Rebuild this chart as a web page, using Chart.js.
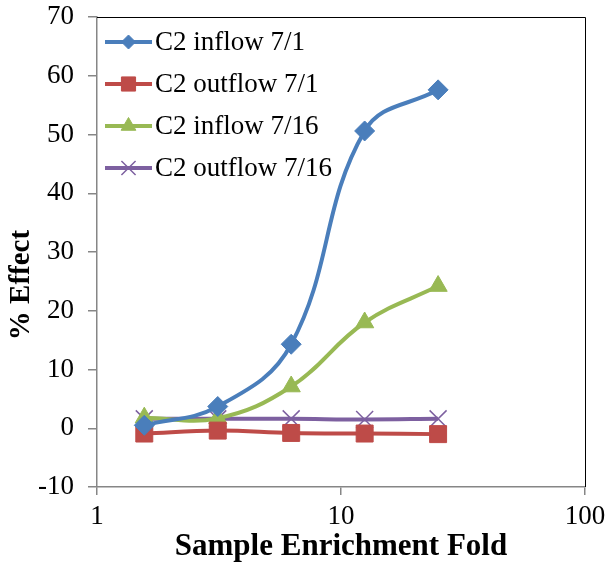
<!DOCTYPE html>
<html>
<head>
<meta charset="utf-8">
<script src="https://cdn.jsdelivr.net/npm/chart.js@4.4.1/dist/chart.umd.min.js"></script>
<style>
  html, body { margin: 0; padding: 0; background: #fff; }
  #wrap { width: 608px; height: 566px; }
</style>
</head>
<body>
<div id="wrap"><canvas id="chart" width="608" height="566"></canvas></div>
<script>
// enrichment fold (x) and % effect for each sample
const fold = [1.5625, 3.125, 6.25, 12.5, 25];
const inflow71 = [0.5, 3.7, 14.3, 50.6, 57.6];
const outflow71 = [-0.9, -0.4, -0.8, -0.9, -1.0];
const inflow716 = [1.8, 1.7, 7.1, 18.0, 24.2];
const outflow716 = [1.6, 1.6, 1.6, 1.5, 1.6];

const seriesNames = ['C2 inflow 7/1', 'C2 outflow 7/1', 'C2 inflow 7/16', 'C2 outflow 7/16'];
const xTicks = [1, 10, 100];
const yTicks = [-10, 0, 10, 20, 30, 40, 50, 60, 70];

const SERIF = '"Liberation Serif", "Times New Roman", serif';
const AXIS = '#868686';

const points = (vals) => fold.map((x, i) => ({ x, y: vals[i] }));

const styles = [
  { color: '#4A7EBB', pointStyle: 'rectRot', radius: 10, legendRadius: 7, tension: 0.4 },
  { color: '#BE4B48', pointStyle: 'rect', radius: 12, legendRadius: 10, tension: 0.4 },
  { color: '#98B954', pointStyle: 'triangle', radius: 10.5, legendRadius: 8.5, tension: 0.4 },
  { color: '#7D60A0', pointStyle: 'crossRot', radius: 12, legendRadius: 10, tension: 0.4 },
];

const datasets = [inflow71, outflow71, inflow716, outflow716].map((vals, i) => ({
  label: seriesNames[i],
  data: points(vals),
  borderColor: styles[i].color,
  backgroundColor: styles[i].color,
  borderWidth: 4,
  pointStyle: styles[i].pointStyle,
  pointRadius: styles[i].radius,
  pointBorderWidth: styles[i].pointStyle === 'crossRot' ? 1.5 : 1,
  pointBorderColor: styles[i].color,
  pointBackgroundColor: styles[i].color,
  tension: styles[i].tension,
}));

// top/right frame of the plot area, axis title on the left, legend inside the plot
const decor = {
  id: 'decor',
  beforeDatasetsDraw(chart) {
    const { ctx, chartArea: a } = chart;
    ctx.save();
    ctx.strokeStyle = '#000';
    ctx.lineWidth = 1;
    ctx.beginPath();
    ctx.moveTo(a.left, a.top + 0.5);
    ctx.lineTo(a.right + 0.5, a.top + 0.5);
    ctx.lineTo(a.right + 0.5, a.bottom);
    ctx.stroke();
    ctx.restore();
  },
  afterDraw(chart) {
    const { ctx, chartArea: a } = chart;
    ctx.save();
    ctx.fillStyle = '#000';
    ctx.font = 'bold 29px ' + SERIF;
    ctx.textAlign = 'center';
    ctx.textBaseline = 'middle';
    ctx.translate(22, 285);
    ctx.rotate(-Math.PI / 2);
    ctx.fillText('% Effect', 0, 0);
    ctx.restore();

    chart.data.datasets.forEach((ds, i) => {
      const y = a.top + 25 + i * 42;
      const x0 = a.left + 8;
      const x1 = a.left + 55;
      ctx.save();
      ctx.strokeStyle = ds.borderColor;
      ctx.fillStyle = ds.backgroundColor;
      ctx.lineWidth = 4;
      ctx.beginPath();
      ctx.moveTo(x0, y);
      ctx.lineTo(x1, y);
      ctx.stroke();
      ctx.lineWidth = ds.pointBorderWidth;
      Chart.helpers.drawPoint(ctx, {
        pointStyle: ds.pointStyle,
        radius: styles[i].legendRadius,
        borderWidth: ds.pointBorderWidth,
      }, (x0 + x1) / 2, y);
      ctx.fillStyle = '#000';
      ctx.font = '27px ' + SERIF;
      ctx.textBaseline = 'middle';
      ctx.fillText(ds.label, x1 + 3, y + 1);
      ctx.restore();
    });
  },
};

new Chart(document.getElementById('chart'), {
  type: 'line',
  data: { datasets },
  plugins: [decor],
  options: {
    responsive: false,
    animation: false,
    layout: { padding: { top: 17, right: 23, left: 0, bottom: 0 } },
    plugins: { legend: { display: false }, tooltip: { enabled: false } },
    scales: {
      x: {
        type: 'logarithmic',
        min: 1,
        max: 100,
        afterBuildTicks: (scale) => { scale.ticks = xTicks.map((v) => ({ value: v })); },
        afterFit: (scale) => {
          scale.height = 79;
          scale.paddingLeft = 0;
          scale.paddingRight = 0;
        },
        ticks: {
          color: '#000',
          font: { family: SERIF, size: 27 },
          padding: 6,
          maxRotation: 0,
          callback: (v) => String(v),
        },
        grid: { drawOnChartArea: false, color: AXIS, tickLength: 8, lineWidth: 1.5 },
        border: { color: AXIS, width: 1.5 },
        title: {
          display: true,
          text: 'Sample Enrichment Fold',
          color: '#000',
          font: { family: SERIF, size: 31, weight: 'bold' },
          padding: { top: -8, bottom: 0 },
        },
      },
      y: {
        min: -10,
        max: 70,
        afterBuildTicks: (scale) => { scale.ticks = yTicks.map((v) => ({ value: v })); },
        afterFit: (scale) => {
          scale.width = 97;
          scale.paddingTop = 0;
          scale.paddingBottom = 0;
        },
        ticks: {
          color: '#000',
          font: { family: SERIF, size: 27 },
          padding: 14,
        },
        grid: { drawOnChartArea: false, color: AXIS, tickLength: 9, lineWidth: 1.5 },
        border: { color: AXIS, width: 1.5 },
      },
    },
  },
});
</script>
</body>
</html>
